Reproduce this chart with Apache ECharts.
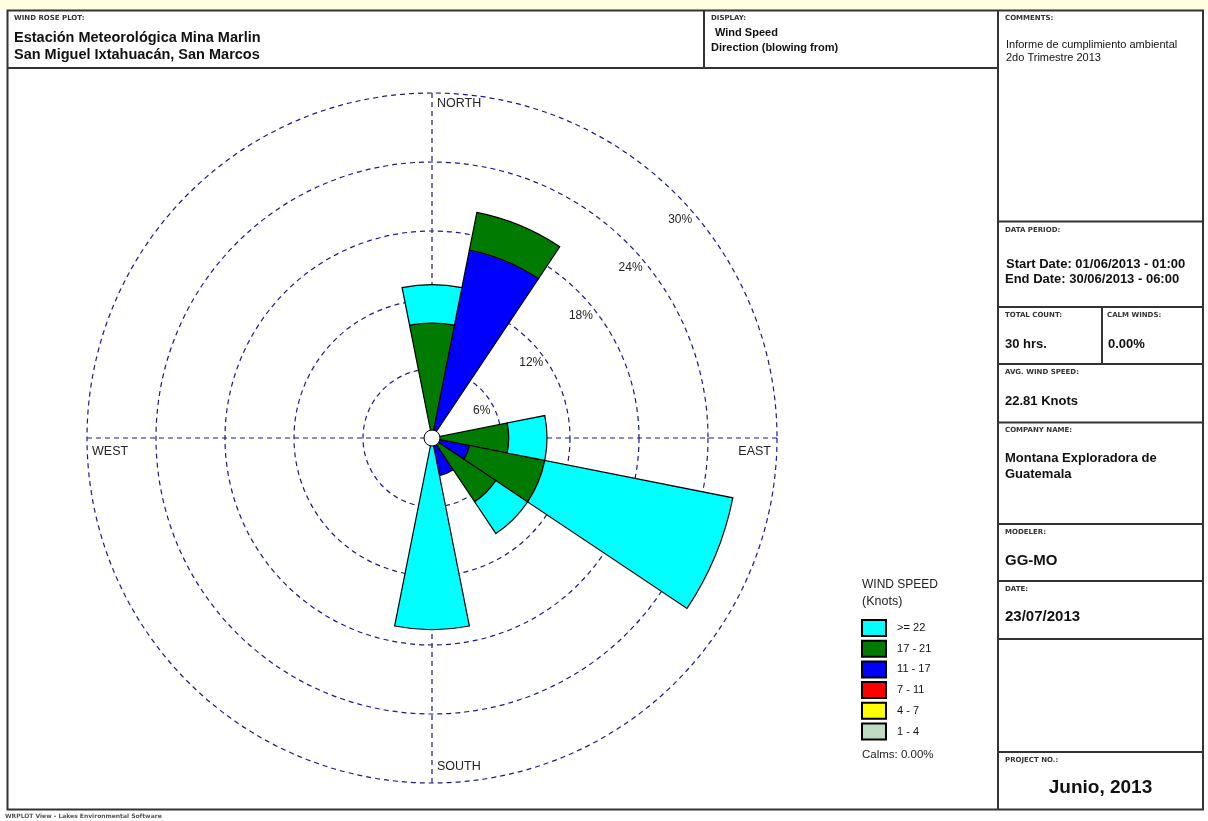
<!DOCTYPE html>
<html><head><meta charset="utf-8">
<script src="https://cdn.jsdelivr.net/npm/echarts@6/dist/echarts.min.js"></script>
<style>html,body{margin:0;padding:0;background:#fff}#c{width:1208px;height:821px}</style>
</head><body><div id="c"></div>
<script>
// ---- data (percent of 30 hourly records, wind blowing from) ----
const directions = ['N','NNE','NE','ENE','E','ESE','SE','SSE','S','SSW','SW','WSW','W','WNW','NW','NNW'];
const speedBins = ['1 - 4','4 - 7','7 - 11','11 - 17','17 - 21','>= 22'];
const pct_1_4   = ['-','-','-','-','-','-','-','-','-','-','-','-','-','-','-','-'];
const pct_4_7   = ['-','-','-','-','-','-','-','-','-','-','-','-','-','-','-','-'];
const pct_7_11  = ['-','-','-','-','-','-','-','-','-','-','-','-','-','-','-','-'];
const pct_11_17 = ['-',16.67,'-','-','-',3.33,'-',3.33,'-','-','-','-','-','-','-','-'];
const pct_17_21 = [10.00,3.33,'-','-',6.67,6.67,6.67,'-','-','-','-','-','-','-','-','-'];
const pct_22up  = [3.33,'-','-','-',3.33,16.67,3.33,'-',16.67,'-','-','-','-','-','-','-'];
const ringTicks = [6,12,18,24,30];
const compassLabels = ['NORTH','EAST','SOUTH','WEST'];

const binData = [pct_1_4,pct_4_7,pct_7_11,pct_11_17,pct_17_21,pct_22up];
const binColors = ['#C0DCC0','#FFFF00','#FF0000','#0000FF','#007A00','#00FFFF'];

const cx = 432, cy = 438, R = 345;
const gridColor = '#1a1a8c';
const F = '"Liberation Sans", Arial, sans-serif';
const FS = '"DejaVu Sans", sans-serif';
const lineC = '#333';

function txt(x, y, text, font, opts) {
  opts = opts || {};
  return {type:'text', x:x, y:y, z:50, style:{text:text, font:font, fill:opts.fill||'#111',
    align:opts.align||'left', verticalAlign:opts.va||'middle'}};
}
function hl(x1,y1,x2,y2){ return {type:'line', z:40, shape:{x1:x1,y1:y1,x2:x2,y2:y2}, style:{stroke:lineC, lineWidth:2}}; }

const small = 'bold 7px ' + FS;
const graphics = [
  {type:'rect', z:1, shape:{x:0,y:0,width:1208,height:10}, style:{fill:'#FFFDE2'}},
  {type:'rect', z:40, shape:{x:7.5,y:10.5,width:1195.5,height:799}, style:{fill:'none', stroke:lineC, lineWidth:2}},
  hl(8,68,998,68), hl(704,11,704,68), hl(998,11,998,809),
  hl(998,221.5,1203,221.5), hl(998,307,1203,307), hl(998,364,1203,364), hl(998,422.5,1203,422.5),
  hl(998,524,1203,524), hl(998,581,1203,581), hl(998,639,1203,639), hl(998,752,1203,752),
  hl(1102,307,1102,364),
  txt(14,18,'WIND ROSE PLOT:',small,{fill:'#333'}),
  txt(14,38,'Estación Meteorológica Mina Marlin','bold 14.5px '+F),
  txt(14,55,'San Miguel Ixtahuacán, San Marcos','bold 14.5px '+F),
  txt(711,18,'DISPLAY:',small,{fill:'#333'}),
  txt(715,33,'Wind Speed','bold 11px '+F),
  txt(711,48,'Direction (blowing from)','bold 11px '+F),
  txt(1005,18,'COMMENTS:',small,{fill:'#333'}),
  txt(1006,45,'Informe de cumplimiento ambiental','11px '+F),
  txt(1006,58,'2do Trimestre 2013','11px '+F),
  txt(1005,230,'DATA PERIOD:',small,{fill:'#333'}),
  txt(1006,264,'Start Date: 01/06/2013 - 01:00','bold 13px '+F),
  txt(1005,279,'End Date: 30/06/2013 - 06:00','bold 13px '+F),
  txt(1005,315,'TOTAL COUNT:',small,{fill:'#333'}),
  txt(1107,315,'CALM WINDS:',small,{fill:'#333'}),
  txt(1005,344,'30 hrs.','bold 13px '+F),
  txt(1108,344,'0.00%','bold 13px '+F),
  txt(1005,372,'AVG. WIND SPEED:',small,{fill:'#333'}),
  txt(1005,401,'22.81 Knots','bold 13px '+F),
  txt(1005,430,'COMPANY NAME:',small,{fill:'#333'}),
  txt(1005,458,'Montana Exploradora de','bold 13px '+F),
  txt(1005,474,'Guatemala','bold 13px '+F),
  txt(1005,532,'MODELER:',small,{fill:'#333'}),
  txt(1005,561,'GG-MO','bold 15px '+F),
  txt(1005,589,'DATE:',small,{fill:'#333'}),
  txt(1005,617,'23/07/2013','bold 15px '+F),
  txt(1005,760,'PROJECT NO.:',small,{fill:'#333'}),
  txt(1100.5,788,'Junio, 2013','bold 19px '+F,{align:'center'}),
  txt(5,816,'WRPLOT View - Lakes Environmental Software','bold 6px '+FS,{fill:'#555'}),
  // legend heading and calms
  txt(862,585,'WIND SPEED','12px '+F,{fill:'#222'}),
  txt(862,602,'(Knots)','12.5px '+F,{fill:'#222'}),
  txt(862,755,'Calms: 0.00%','11.5px '+F,{fill:'#222'}),
  // compass labels
  txt(cx+5, cy-R+11, compassLabels[0], '12.5px '+F, {fill:'#222'}),
  txt(cx+R-6, cy+14, compassLabels[1], '12.5px '+F, {fill:'#222', align:'right'}),
  txt(cx+5, cy+R-16, compassLabels[2], '12.5px '+F, {fill:'#222'}),
  txt(cx-R+5, cy+14, compassLabels[3], '12.5px '+F, {fill:'#222'}),
  // calm circle at the centre
  {type:'circle', z:60, shape:{cx:cx, cy:cy, r:8}, style:{fill:'#fff', stroke:'#000', lineWidth:1}}
];

const chart = echarts.init(document.getElementById('c'), null, {renderer:'canvas'});
const option = {
  backgroundColor:'#fff',
  animation:false,
  polar:[
    {center:[cx,cy], radius:R},
    {center:[cx,cy], radius:R},
    {center:[cx,cy], radius:R}
  ],
  angleAxis:[
    {polarIndex:0, type:'value', min:0, max:360, interval:90, startAngle:90, clockwise:true,
     axisLine:{show:false}, axisTick:{show:false}, axisLabel:{show:false},
     splitLine:{show:true, lineStyle:{color:gridColor, width:1.2, type:[5,4]}}},
    {polarIndex:1, type:'value', min:0, max:360, startAngle:44, show:false},
    {polarIndex:2, type:'category', data:directions, startAngle:90+11.25, clockwise:true, boundaryGap:true,
     axisLine:{show:false}, axisTick:{show:false}, axisLabel:{show:false}, splitLine:{show:false}}
  ],
  radiusAxis:[
    {polarIndex:0, type:'value', min:0, max:ringTicks[ringTicks.length-1], interval:ringTicks[0],
     axisLine:{show:false}, axisTick:{show:false}, axisLabel:{show:false},
     splitLine:{show:true, lineStyle:{color:gridColor, width:1.2, type:[5,4]}}},
    {polarIndex:1, type:'value', min:0, max:ringTicks[ringTicks.length-1], interval:ringTicks[0],
     axisLine:{show:false}, axisTick:{show:false}, splitLine:{show:false},
     axisLabel:{show:true, margin:0, align:'center', verticalAlign:'top', lineHeight:14,
       fontSize:12, fontFamily:F, color:'#222',
       formatter: v => ringTicks.indexOf(v) >= 0 ? '\n' + v + '%' : ''}},
    {polarIndex:2, type:'value', min:0, max:ringTicks[ringTicks.length-1], show:false}
  ],
  legend:{orient:'vertical', left:861, top:619, padding:0, itemWidth:24, itemHeight:16, itemGap:2.7, icon:'rect',
    selectedMode:false, data: speedBins.slice().reverse(),
    formatter: n => '  ' + n,
    textStyle:{fontSize:11, lineHeight:16, color:'#111', fontFamily:F}},
  series: speedBins.map((name,i) => ({
    type:'bar', name:name, coordinateSystem:'polar', polarIndex:2, stack:'ws',
    data: binData[i], barCategoryGap:'0%', barGap:'0%', z:5,
    itemStyle:{color:binColors[i], borderColor:'#000', borderWidth:1.2}
  })),
  graphic:{elements:graphics}
};
chart.setOption(option);
</script></body></html>
